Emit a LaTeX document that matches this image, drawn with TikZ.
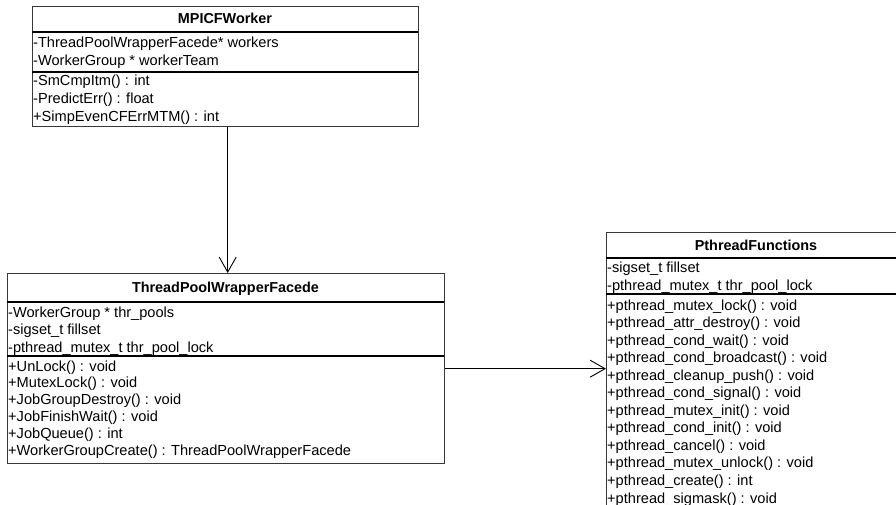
\documentclass[tikz,border=0pt]{standalone}
\usepackage{fontspec}
\setmainfont{Liberation Sans}
\usetikzlibrary{arrows.meta}
\begin{document}
\begin{tikzpicture}[x=1pt,y=-1pt,
  classbox/.style={draw=black!78, line width=1.4pt, inner sep=0pt, anchor=north west},
  sepline/.style={draw=black, line width=1.1pt},
  ctitle/.style={font=\fontsize{14.4}{16}\selectfont\bfseries, anchor=base, inner sep=0pt},
  member/.style={font=\fontsize{14.6}{16}\selectfont, anchor=base west, inner sep=0pt},
  assoc/.style={draw=black, line width=0.9pt, -{Straight Barb[length=15pt,width=17pt,line width=0.9pt]}}
]
\useasboundingbox (0,0) rectangle (896,505);
\clip (0,0) rectangle (896,505);
\fill[white] (0,0) rectangle (896,505);

% ---------- MPICFWorker ----------
\node[classbox, minimum width=386pt, minimum height=120pt] (mpicf) at (32,6) {};
\draw[sepline] (32,32) -- (418,32);
\draw[sepline] (32,72) -- (418,72);
\node[ctitle] (mpicfT) at (225,24) {MPICFWorker};
\node[member] (m1) at (33,48) {-ThreadPoolWrapperFacede* workers};
\node[member] (m2) at (33,66) {-WorkerGroup * workerTeam};
\node[member] (m3) at (33,86) {-SmCmpItm() : int};
\node[member] (m4) at (33,104) {-PredictErr() : float};
\node[member] (m5) at (33,122) {+SimpEvenCFErrMTM() : int};

% ---------- ThreadPoolWrapperFacede ----------
\node[classbox, minimum width=437pt, minimum height=190pt] (tpwf) at (7,273) {};
\draw[sepline] (7,302) -- (444,302);
\draw[sepline] (7,356) -- (444,356);
\node[ctitle] (tpwfT) at (225.5,292.5) {ThreadPoolWrapperFacede};
\node[member] (t1) at (8,317) {-WorkerGroup * thr\_pools};
\node[member] (t2) at (8,334.5) {-sigset\_t fillset};
\node[member] (t3) at (8,352) {-pthread\_mutex\_t thr\_pool\_lock};
\node[member] (t4) at (8,371) {+UnLock() : void};
\node[member] (t5) at (8,387.8) {+MutexLock() : void};
\node[member] (t6) at (8,404.6) {+JobGroupDestroy() : void};
\node[member] (t7) at (8,421.4) {+JobFinishWait() : void};
\node[member] (t8) at (8,438.2) {+JobQueue() : int};
\node[member] (t9) at (8,455) {+WorkerGroupCreate() : ThreadPoolWrapperFacede};

% ---------- PthreadFunctions ----------
\node[classbox, minimum width=300pt, minimum height=282pt] (pth) at (606,232) {};
\draw[sepline] (606,258) -- (906,258);
\draw[sepline] (606,294) -- (906,294);
\node[ctitle] (pthT) at (756,250) {PthreadFunctions};
\node[member] (p1) at (607,272) {-sigset\_t fillset};
\node[member] (p2) at (607,290) {-pthread\_mutex\_t thr\_pool\_lock};
\foreach \name [count=\i from 0] in {%
  pthread\_mutex\_lock() : void,
  pthread\_attr\_destroy() : void,
  pthread\_cond\_wait() : void,
  pthread\_cond\_broadcast() : void,
  pthread\_cleanup\_push() : void,
  pthread\_cond\_signal() : void,
  pthread\_mutex\_init() : void,
  pthread\_cond\_init() : void,
  pthread\_cancel() : void,
  pthread\_mutex\_unlock() : void,
  pthread\_create() : int,
  pthread\_sigmask() : void}
  \node[member] (pm\i) at (607,{310+17.55*\i}) {+\name};

% ---------- connectors ----------
\draw[assoc] ([xshift=2pt]mpicf.south) -- ([xshift=1.5pt]tpwf.north);
\draw[assoc] (tpwf.east) -- (tpwf.east -| pth.west);
\end{tikzpicture}
\end{document}
